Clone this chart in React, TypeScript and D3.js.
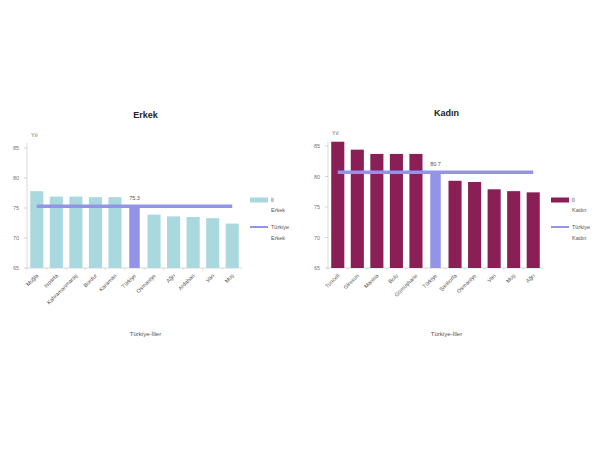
import React from "react";
import * as d3 from "d3";

const maleProvinces = ["Muğla", "Isparta", "Kahramanmaraş", "Burdur", "Karaman", "Türkiye", "Osmaniye", "Ağrı", "Ardahan", "Van", "Muş"];
const maleValues = [77.8, 76.9, 76.9, 76.8, 76.8, 75.3, 73.9, 73.6, 73.5, 73.3, 72.4];
const maleTurkey = 75.3;

const femaleProvinces = ["Tunceli", "Giresun", "Manisa", "Bolu", "Gümüşhane", "Türkiye", "Şanlıurfa", "Osmaniye", "Van", "Muş", "Ağrı"];
const femaleValues = [85.7, 84.4, 83.7, 83.7, 83.7, 80.7, 79.3, 79.1, 77.9, 77.6, 77.4];
const femaleTurkey = 80.7;

const yTicks = [65, 70, 75, 80, 85];
const yDomain = [65, 85];

const FONT = "'Liberation Sans', Arial, sans-serif";

type ChartProps = {
  title: string;
  cats: string[];
  vals: number[];
  avg: number;
  barColor: string;
  lineColor: string;
  x0: number;
  x1: number;
  yBottom: number;
  yTop: number;
  legend1: string[];
  legend2: string[];
};

function Chart(p: ChartProps) {
  const x = d3.scaleBand<string>().domain(p.cats).range([p.x0, p.x1]).paddingInner(0.33).paddingOuter(0.165);
  const y = d3.scaleLinear().domain(yDomain).range([p.yBottom, p.yTop]);
  const bw = x.bandwidth();
  const first = p.cats[0];
  const last = p.cats[p.cats.length - 1];
  const lineX0 = (x(first) as number) + bw / 2;
  const lineX1 = (x(last) as number) + bw / 2;
  const avgY = y(p.avg);
  const midX = (p.x0 + p.x1) / 2;
  const legX = p.x1 + 6;
  const legY = 200;
  return (
    <g fontFamily={FONT}>
      <text x={midX + 11} y={p.yTop - 30} textAnchor="middle" fontSize={9} fontWeight="bold" fill="#222">{p.title}</text>
      <text x={p.x0 + 4} y={p.yTop - 11} fontSize={5.5} fill="#666">Yıl</text>
      <line x1={p.x0} x2={p.x0} y1={p.yTop - 5} y2={p.yBottom} stroke="#d0d0d0" strokeWidth={0.8} />
      <line x1={p.x0} x2={p.x1} y1={p.yBottom} y2={p.yBottom} stroke="#d0d0d0" strokeWidth={0.8} />
      {yTicks.map((t) => (
        <g key={t}>
          <line x1={p.x0 - 3} x2={p.x0} y1={y(t)} y2={y(t)} stroke="#c8c8c8" strokeWidth={0.8} />
          <text x={p.x0 - 8} y={y(t) + 2} textAnchor="end" fontSize={5.5} fill="#777">{t}</text>
        </g>
      ))}
      {p.cats.map((c) => {
        const cx = (x(c) as number) + bw / 2;
        const tx = (x(c) as number) - (x.step() - bw) / 2;
        return (
          <g key={c}>
            <line x1={tx} x2={tx} y1={p.yBottom} y2={p.yBottom + 2} stroke="#c8c8c8" strokeWidth={0.6} />
            <text transform={`translate(${cx + 2},${p.yBottom + 8}) rotate(-45)`} textAnchor="end" fontSize={5.5} fill="#555">{c}</text>
          </g>
        );
      })}
      {p.cats.map((c, i) => {
        const isT = c === "Türkiye";
        const w = isT ? bw * 0.8 : bw;
        const bx = (x(c) as number) + (bw - w) / 2;
        return (
          <rect key={c} x={bx} y={y(p.vals[i])} width={w} height={p.yBottom - y(p.vals[i])} fill={isT ? p.lineColor : p.barColor} />
        );
      })}
      <line x1={lineX0} x2={lineX1} y1={avgY} y2={avgY} stroke={p.lineColor} strokeWidth={3.5} />
      <text x={(x("Türkiye") as number) + bw / 2} y={avgY - 6} textAnchor="middle" fontSize={5.5} fill="#555">{p.avg.toFixed(1)}</text>
      <rect x={legX + 2} y={legY - 2.5} width={18} height={5} fill={p.barColor} />
      <text x={legX + 23} y={legY + 2} fontSize={5.5} fill="#555">{p.legend1[0]}</text>
      <text x={legX + 23} y={legY + 12} fontSize={5.5} fill="#555">{p.legend1[1]}</text>
      <line x1={legX + 2} x2={legX + 20} y1={legY + 27} y2={legY + 27} stroke={p.lineColor} strokeWidth={2} />
      <text x={legX + 23} y={legY + 29} fontSize={5.5} fill="#555">{p.legend2[0]}</text>
      <text x={legX + 23} y={legY + 40} fontSize={5.5} fill="#555">{p.legend2[1]}</text>
      <text x={midX + 11} y={p.yBottom + 68} textAnchor="middle" fontSize={6} fill="#555">Türkiye-İller</text>
    </g>
  );
}

export default function App() {
  return (
    <svg width={600} height={450} style={{ position: "absolute", left: 0, top: 0, background: "#fff" }}>
      <rect width={600} height={450} fill="#fff" />
      <Chart
        title="Erkek"
        cats={maleProvinces}
        vals={maleValues}
        avg={maleTurkey}
        barColor="#a9d8df"
        lineColor="#9393e8"
        x0={27}
        x1={242}
        yBottom={268}
        yTop={148}
        legend1={["İl", "Erkek"]}
        legend2={["Türkiye", "Erkek"]}
      />
      <Chart
        title="Kadın"
        cats={femaleProvinces}
        vals={femaleValues}
        avg={femaleTurkey}
        barColor="#8a1f55"
        lineColor="#9393e8"
        x0={328}
        x1={543}
        yBottom={268}
        yTop={146}
        legend1={["İl", "Kadın"]}
        legend2={["Türkiye", "Kadın"]}
      />
    </svg>
  );
}
